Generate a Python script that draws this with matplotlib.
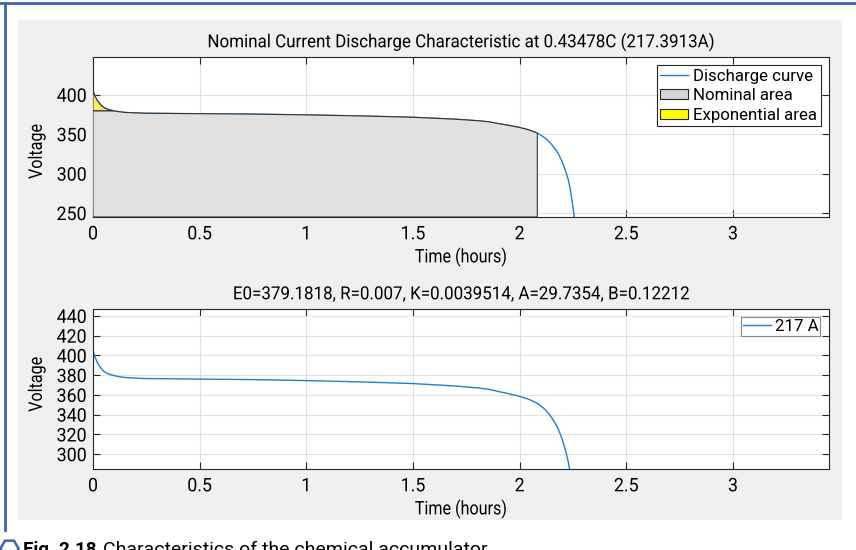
import numpy as np
import matplotlib
matplotlib.use("Agg")
import matplotlib.pyplot as plt
import matplotlib.patheffects as pe
from matplotlib.patches import Patch, Rectangle
from matplotlib.lines import Line2D
from matplotlib.transforms import Affine2D

# --- data ---
t_hours = [0, 0.008, 0.017, 0.025, 0.033, 0.04, 0.048, 0.056, 0.064, 0.072, 0.08,
           0.095, 0.11, 0.126, 0.142, 0.158, 0.2, 0.25, 0.5, 0.75, 1.0, 1.25, 1.5,
           1.7, 1.81, 1.86, 1.9, 1.95, 2.0, 2.04, 2.083, 2.11, 2.127, 2.14, 2.15,
           2.162, 2.173, 2.182, 2.19, 2.198, 2.205, 2.212, 2.218, 2.224, 2.229,
           2.234, 2.238, 2.242, 2.246, 2.249, 2.252, 2.257]
voltage = [405, 399, 394.5, 391, 388.5, 386.3, 384.5, 383.2, 382.2, 381.3, 380.7,
           379.8, 379, 378.4, 377.9, 377.5, 377, 376.6, 376, 375.5, 374.5, 373.2, 371.5,
           369, 367, 365.5, 363.5, 361.2, 358.5, 355.8, 351.5, 347, 343.5, 340, 337,
           333, 329, 325, 320.5, 316, 311, 306, 301, 296, 291,
           285, 279, 272.5, 265, 259.5, 254, 244]
t_exp = 0.095      # end of exponential zone
t_nom = 2.083      # end of nominal zone

top_title = "Nominal Current Discharge Characteristic at 0.43478C (217.3913A)"
bottom_title = "E0=379.1818, R=0.007, K=0.0039514, A=29.7354, B=0.12212"
x_ticks = [0, 0.5, 1, 1.5, 2, 2.5, 3]
x_ticklabels = ["0", "0.5", "1", "1.5", "2", "2.5", "3"]
top_yticks = [250, 300, 350, 400]
bottom_yticks = [300, 320, 340, 360, 380, 400, 420, 440]
legend_top = ["Discharge curve", "Nominal area", "Exponential area"]
legend_bottom = ["217 A"]
caption_bold = "Fig. 2.18"
caption_text = "Characteristics of the chemical accumulator"

plt.rcParams['font.family'] = ['Roboto', 'DejaVu Sans']
plt.rcParams['font.size'] = 13

BLUE = '#1f7fcc'
t = np.array(t_hours)
v = np.array(voltage)


class Squeeze(pe.AbstractPathEffect):
    """narrow the glyphs around the text centre (the scan uses a condensed face)"""
    def __init__(self, s, axis='x'):
        super().__init__()
        self.s = s
        self.axis = axis

    def draw_path(self, renderer, gc, tpath, affine, rgbFace=None):
        ext = tpath.get_extents(affine)
        cx = (ext.x0 + ext.x1) / 2
        cy = (ext.y0 + ext.y1) / 2
        if self.axis == 'x':
            sq = Affine2D().translate(-cx, 0).scale(self.s, 1).translate(cx, 0)
        else:
            sq = Affine2D().translate(0, -cy).scale(1, self.s).translate(0, cy)
        renderer.draw_path(gc, tpath, affine + sq, rgbFace)


fig = plt.figure(figsize=(8.56, 5.5), dpi=100)
fig.patch.set_facecolor('white')

# gray matlab panel and page border
fig.patches.append(Rectangle((0.021, 0.0545), 0.9626, 0.909, transform=fig.transFigure,
                             facecolor='#f0f0f0', edgecolor='none', zorder=-5))
fig.lines.append(Line2D([0, 1], [0.9945, 0.9945], transform=fig.transFigure,
                        color='#3f64a9', lw=2))
fig.lines.append(Line2D([0.0058, 0.0058], [0.036, 0.9945], transform=fig.transFigure,
                        color='#3f64a9', lw=2))


def style(ax, yticks, title, ylab_y):
    ax.set_xlim(0, 3.45)
    ax.set_xticks(x_ticks)
    ax.set_xticklabels(x_ticklabels)
    ax.set_yticks(yticks)
    ax.grid(True, color='#e0e0e0', lw=0.8)
    ax.set_axisbelow(True)
    ax.tick_params(direction='in', length=5, width=0.8, top=True, right=True,
                   colors='#262626', labelcolor='black', labelsize=13.5)
    ax.tick_params(axis='x', pad=6)
    ax.tick_params(axis='y', pad=4)
    for lab in ax.get_xticklabels() + ax.get_yticklabels():
        lab.set_path_effects([Squeeze(0.95)])
    for s in ax.spines.values():
        s.set_color('#262626')
        s.set_linewidth(0.8)
    xl = ax.set_xlabel("Time (hours)", fontsize=13.5, labelpad=3)
    xl.set_path_effects([Squeeze(0.86)])
    yl = ax.set_ylabel("Voltage", fontsize=13.5)
    yl.set_path_effects([Squeeze(0.86, 'y')])
    ax.yaxis.set_label_coords(-0.064, ylab_y)
    tt = ax.set_title(title, fontsize=13, pad=7)
    tt.set_path_effects([Squeeze(0.94)])


# --- top: nominal discharge characteristic ---
ax1 = fig.add_axes([0.1086, 0.6055, 0.8598, 0.2909])
ybot = 245
ax1.set_ylim(ybot, 448)
ax1.plot(t, v, color=BLUE, lw=1, zorder=2)

v_exp = np.interp(t_exp, t, v)
m = (t > t_exp) & (t < t_nom)
nx = np.concatenate([[0, 0, t_exp], t[m], [t_nom, t_nom]])
ny = np.concatenate([[ybot, v_exp, v_exp], v[m], [np.interp(t_nom, t, v), ybot]])
ax1.fill(nx, ny, facecolor='#e1e1e1', edgecolor='#333333', lw=0.8, zorder=3)

me = t <= t_exp
ax1.fill(np.concatenate([t[me], [0]]), np.concatenate([v[me], [v_exp]]),
         facecolor='#f3ef6a', edgecolor='#333333', lw=0.8, zorder=3)

style(ax1, top_yticks, top_title, 0.41)
handles = [Line2D([], [], color=BLUE, lw=1),
           Patch(facecolor='#d6d6d6', edgecolor='#262626', lw=0.8),
           Patch(facecolor='#ffff00', edgecolor='#262626', lw=0.8)]
leg = ax1.legend(handles, legend_top, loc='upper right', fontsize=12.2,
                 fancybox=False, framealpha=1, edgecolor='#262626',
                 borderpad=0.2, labelspacing=0.28, handlelength=1.65,
                 handleheight=0.5, handletextpad=0.3, borderaxespad=0.48)
leg.get_frame().set_linewidth(0.8)

# --- bottom: fitted curve ---
ax2 = fig.add_axes([0.1086, 0.1473, 0.8598, 0.2909])
ax2.set_ylim(285, 447)
ax2.plot(t, v, color=BLUE, lw=1, label=legend_bottom[0])
style(ax2, bottom_yticks, bottom_title, 0.53)
leg2 = ax2.legend(loc='upper right', fontsize=12.2, fancybox=False, framealpha=1,
                  edgecolor='#888888', borderpad=0.1, handlelength=1.65,
                  handletextpad=0.25, borderaxespad=0.5)
leg2.get_frame().set_linewidth(0.8)

# caption, cut at the bottom edge like the scan
fig.lines.append(Line2D([0.011], [0.004], transform=fig.transFigure, marker='H',
                        markersize=13, markerfacecolor='none',
                        markeredgecolor='#3f64a9', markeredgewidth=1.8))
fig.text(0.027, 0.016, caption_bold, fontsize=13.5, fontweight='bold', va='top')
fig.text(0.12, 0.016, caption_text, fontsize=14, va='top')

fig.savefig("out.png", dpi=100, facecolor='white')
